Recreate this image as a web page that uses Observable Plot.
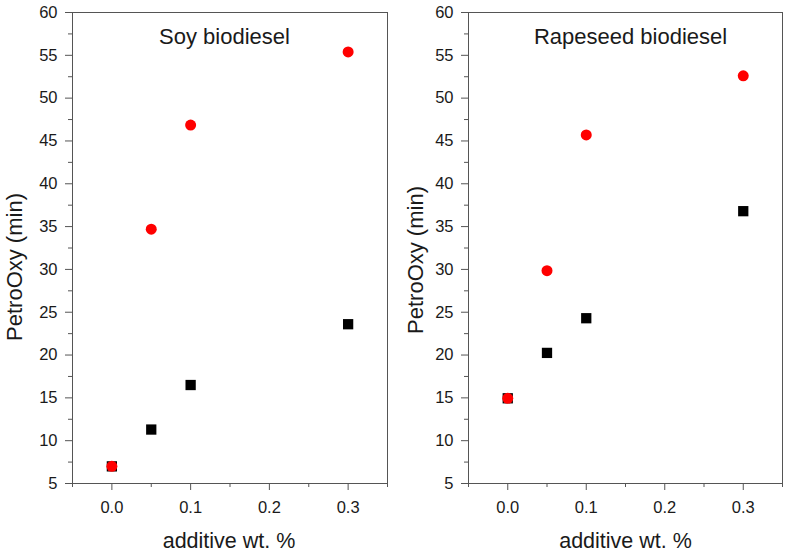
<!DOCTYPE html>
<html>
<head>
<meta charset="utf-8">
<script src="https://cdn.jsdelivr.net/npm/d3@7"></script>
<script src="https://cdn.jsdelivr.net/npm/@observablehq/plot@0.6"></script>
<style>
  html, body { margin: 0; padding: 0; background: #fff; }
  #wrap { display: flex; width: 787px; height: 553px; font-family: "Liberation Sans", Arial, sans-serif; }
</style>
</head>
<body>
<div id="wrap"></div>
<script>
// ---- data ----
const additive = [0, 0.05, 0.1, 0.3];
const soyBlack = [7.0, 11.3, 16.5, 23.6];
const soyRed = [7.0, 34.7, 46.85, 55.4];
const rapeBlack = [14.95, 20.25, 24.3, 36.8];
const rapeRed = [14.95, 29.85, 45.7, 52.6];
const panelTitles = ["Soy biodiesel", "Rapeseed biodiesel"];
const xMajor = [0.0, 0.1, 0.2, 0.3];
const xMinor = [-0.05, 0.05, 0.15, 0.25, 0.35];
const yMajor = [5, 10, 15, 20, 25, 30, 35, 40, 45, 50, 55, 60];
const yMinor = [7.5, 12.5, 17.5, 22.5, 27.5, 32.5, 37.5, 42.5, 47.5, 52.5, 57.5];
const xLabel = "additive wt. %";
const yLabel = "PetroOxy (min)";

const axisColor = "#555";
const textColor = "#1a1a1a";

function panel(title, black, red, opts) {
  const blackData = additive.map((x, i) => ({x, y: black[i]}));
  const redData = additive.map((x, i) => ({x, y: red[i]}));
  return Plot.plot({
    width: opts.width,
    height: 553,
    marginLeft: opts.marginLeft,
    marginRight: opts.marginRight,
    marginTop: 12,
    marginBottom: 70,
    style: {fontFamily: "'Liberation Sans', Arial, sans-serif", color: textColor, background: "#fff"},
    x: {domain: [-0.05, 0.35]},
    y: {domain: [5, 60]},
    marks: [
      Plot.frame({stroke: axisColor}),
      Plot.axisX(xMajor, {tickSize: 7, tickPadding: 11, fontSize: 16.5, tickFormat: d3.format(".1f"), label: null, stroke: axisColor, fill: textColor}),
      Plot.axisX(xMinor, {tickSize: 4, fill: "none", label: null, stroke: axisColor}),
      Plot.axisY(yMajor, {tickSize: 7, tickPadding: 8, fontSize: 16.5, label: null, stroke: axisColor, fill: textColor}),
      Plot.axisY(yMinor, {tickSize: 4, fill: "none", label: null, stroke: axisColor}),
      Plot.dot(blackData, {x: "x", y: "y", symbol: "square", r: 5.8, fill: "#000", stroke: null}),
      Plot.dot(redData, {x: "x", y: "y", symbol: "circle", r: 5.5, fill: "#f00", stroke: null}),
      Plot.text([title], {frameAnchor: "top", dx: opts.titleDx, dy: 24.5, lineAnchor: "middle", textAnchor: "middle", fontSize: 22, fill: textColor}),
      Plot.text([xLabel], {frameAnchor: "bottom", dx: opts.xlabDx, dy: 58, lineAnchor: "middle", textAnchor: "middle", fontSize: 21.5, fill: textColor}),
      Plot.text([yLabel], {frameAnchor: "left", dx: opts.ylabDx, dy: opts.ylabDy, rotate: -90, lineAnchor: "middle", textAnchor: "middle", fontSize: 22, fill: textColor})
    ]
  });
}

const wrap = document.getElementById("wrap");
wrap.appendChild(panel(panelTitles[0], soyBlack, soyRed, {width: 393, marginLeft: 72, marginRight: 6, titleDx: -5.5, xlabDx: -1, ylabDx: -58, ylabDy: 19}));
wrap.appendChild(panel(panelTitles[1], rapeBlack, rapeRed, {width: 394, marginLeft: 75, marginRight: 5, titleDx: 5, xlabDx: 0, ylabDx: -53, ylabDy: 12}));
</script>
</body>
</html>
